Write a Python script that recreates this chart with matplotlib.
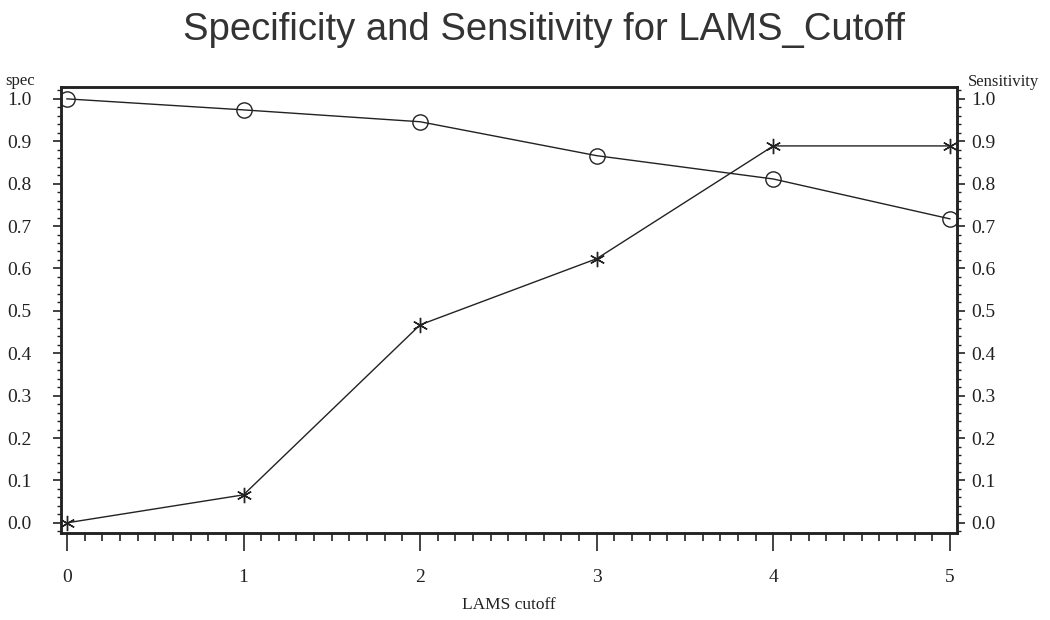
import numpy as np
import matplotlib
matplotlib.use('Agg')
import matplotlib.pyplot as plt
from matplotlib.ticker import MultipleLocator, FormatStrFormatter

cutoff = [0, 1, 2, 3, 4, 5]
spec = [1.0, 0.974, 0.946, 0.866, 0.811, 0.717]
sens = [0.0, 0.066, 0.467, 0.623, 0.889, 0.889]

title = 'Specificity and Sensitivity for LAMS_Cutoff'
xlabel = 'LAMS cutoff'
left_label = 'spec'
right_label = 'Sensitivity'

serif = 'Liberation Serif'
ink = '#222222'

fig = plt.figure(figsize=(10.5, 6.2), dpi=100)
ax = fig.add_axes([0.058, 0.1403, 0.8534, 0.7194])

ax.plot(cutoff, spec, color=ink, lw=1.0, marker='o', ms=11,
        mfc='none', mec=ink, mew=1.0)
ax.set_xlim(-0.034, 5.04)
ax.set_ylim(-0.024, 1.028)

ax2 = ax.twinx()
ax2.plot(cutoff, sens, color=ink, lw=1.0, marker=(6, 2, 0), ms=11,
         mec=ink, mew=1.0)
ax2.set_ylim(-0.024, 1.028)

for a in (ax, ax2):
    for s in a.spines.values():
        s.set_linewidth(1.8)
        s.set_color(ink)
    a.yaxis.set_major_locator(MultipleLocator(0.1))
    a.yaxis.set_minor_locator(MultipleLocator(0.02))
    a.yaxis.set_major_formatter(FormatStrFormatter('%.1f'))

ax.xaxis.set_major_locator(MultipleLocator(1))
ax.xaxis.set_minor_locator(MultipleLocator(0.1))
ax.tick_params(axis='x', which='major', direction='out', length=13, width=1.2,
               pad=13, labelsize=14, colors=ink)
ax.tick_params(axis='x', which='minor', direction='out', length=6, width=1.2,
               colors=ink)
ax.tick_params(axis='y', which='major', direction='out', length=6, width=1.2,
               pad=15, labelsize=14, colors=ink)
ax.tick_params(axis='y', which='minor', direction='out', length=3, width=1.0,
               colors=ink)
ax2.tick_params(axis='y', which='major', direction='out', length=6, width=1.2,
                pad=4, labelsize=14, colors=ink)
ax2.tick_params(axis='y', which='minor', direction='out', length=3, width=1.0,
                colors=ink)

for lab in ax.get_xticklabels() + ax.get_yticklabels() + ax2.get_yticklabels():
    lab.set_fontfamily(serif)

fig.text(0.518, 0.952, title, ha='center', va='center', fontsize=27.5,
         family='Liberation Sans', color='#333333')
fig.text(0.005, 0.87, left_label, ha='left', va='center', fontsize=12,
         family=serif, color=ink)
fig.text(0.922, 0.867, right_label, ha='left', va='center', fontsize=12,
         family=serif, color=ink)
fig.text(0.485, 0.024, xlabel, ha='center', va='center', fontsize=12.5,
         family=serif, color=ink)

fig.savefig('out.png', dpi=100, facecolor='white')
